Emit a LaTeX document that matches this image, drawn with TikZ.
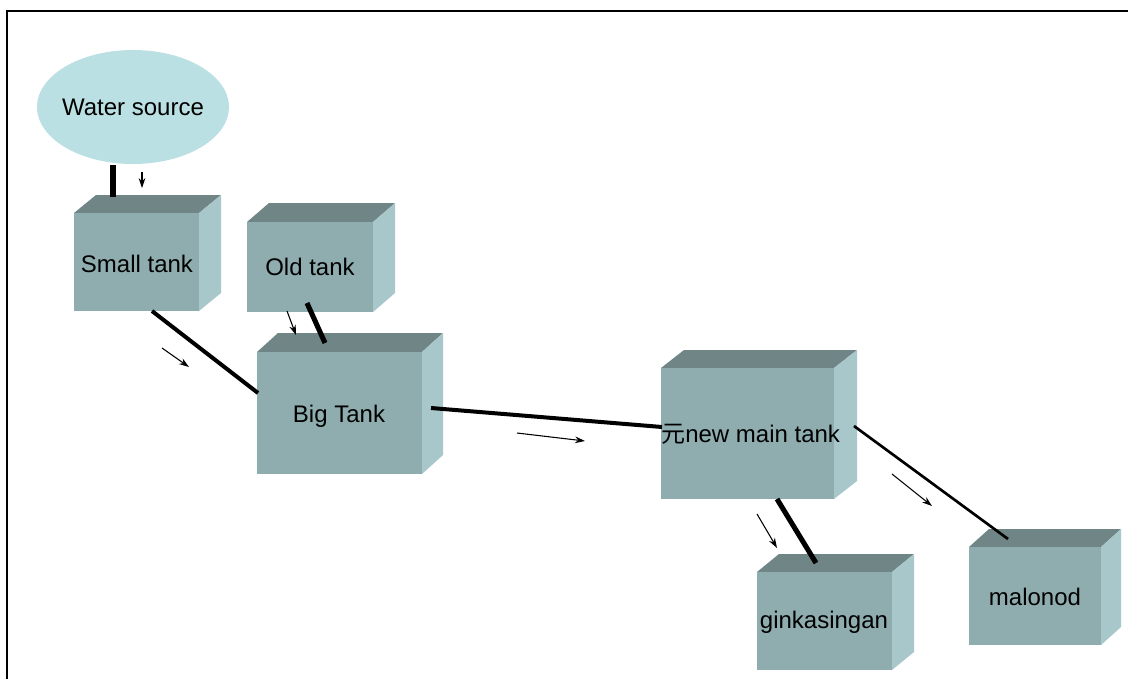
\documentclass[tikz,border=0pt]{standalone}
\usepackage{fontspec}
\setmainfont{Liberation Sans}
\newfontfamily\cjk{Noto Sans CJK SC}
\usetikzlibrary{arrows.meta,shapes.geometric}
\definecolor{frontc}{HTML}{8FADAF}
\definecolor{topc}{HTML}{708585}
\definecolor{sidec}{HTML}{A8C7CA}
\definecolor{srcc}{HTML}{BBE0E3}
\newcommand\tankbox[6]{% x1,y1,x2,y2,dx,dy
  \fill[topc] (#1,#2) -- ({#1+#5},{#2-#6}) -- ({#3+#5},{#2-#6}) -- (#3,#2) -- cycle;
  \fill[sidec] (#3,#2) -- ({#3+#5},{#2-#6}) -- ({#3+#5},{#4-#6}) -- (#3,#4) -- cycle;
  \fill[frontc] (#1,#2) rectangle (#3,#4);
}
\begin{document}
\begin{tikzpicture}[x=0.75pt,y=-0.75pt,
  lbl/.style={font=\fontsize{18}{20}\selectfont, text=black, inner sep=0pt},
  pipe/.style={line width=#1, draw=black},
  flow/.style={line width=0.8pt, -{Stealth[length=7.5pt,width=5pt]}}]
\useasboundingbox (0,0) rectangle (1128,679);
\fill[white] (0,0) rectangle (1128,679);
% frame
\draw[line width=1.6pt] (7,679) -- (7,11) -- (1128,11);
% water source
\fill[srcc] (133,107) ellipse [x radius=72pt, y radius=42.75pt];
\node[lbl] (src) at (133,107) {Water source};
% tanks
\tankbox{74}{213}{199}{311}{22}{18}
\node[lbl] (small) at (137,264) {Small tank};
\tankbox{247}{222}{373}{312}{22}{19}
\node[lbl] (old) at (310,267) {Old tank};
\tankbox{257}{352}{422}{474}{21}{19}
\node[lbl] (big) at (339,416) {Big Tank};
\tankbox{661}{368}{834}{499}{23}{18}
\node[lbl, anchor=west] (main) at (661,434) {{\cjk 元}new main tank};
\tankbox{757}{572}{892}{670}{22}{18}
\node[lbl] (gink) at (824,622) {ginkasingan};
\tankbox{969}{547}{1101}{645}{20}{18}
\node[lbl] (malo) at (1035,597) {malonod};
% pipe end points
\coordinate (p1a) at (113,165); \coordinate (p1b) at (113,197);
\coordinate (p2a) at (152,311); \coordinate (p2b) at (258,393);
\coordinate (p3a) at (307,303); \coordinate (p3b) at (325,343);
\coordinate (p4a) at (431,408); \coordinate (p4b) at (662,427);
\coordinate (p5a) at (777,499); \coordinate (p5b) at (816,563);
\coordinate (p6a) at (854,426); \coordinate (p6b) at (1008,539);
\draw[pipe=3.8pt] (p1a) -- (p1b);
\draw[pipe=3pt] (p2a) -- (p2b);
\draw[pipe=3.8pt] (p3a) -- (p3b);
\draw[pipe=3pt] (p4a) -- (p4b);
\draw[pipe=3.8pt] (p5a) -- (p5b);
\draw[pipe=2pt] (p6a) -- (p6b);
% flow arrows
\coordinate (a1a) at (142,172); \coordinate (a1b) at (142,188);
\coordinate (a2a) at (162,348); \coordinate (a2b) at (189,367);
\coordinate (a3a) at (287,311); \coordinate (a3b) at (296,335);
\coordinate (a4a) at (517,433); \coordinate (a4b) at (585,441);
\coordinate (a5a) at (757,514); \coordinate (a5b) at (777,548);
\coordinate (a6a) at (892,474); \coordinate (a6b) at (932,506);
\draw[flow] (a1a) -- (a1b);
\draw[flow] (a2a) -- (a2b);
\draw[flow] (a3a) -- (a3b);
\draw[flow] (a4a) -- (a4b);
\draw[flow] (a5a) -- (a5b);
\draw[flow] (a6a) -- (a6b);
\end{tikzpicture}
\end{document}
